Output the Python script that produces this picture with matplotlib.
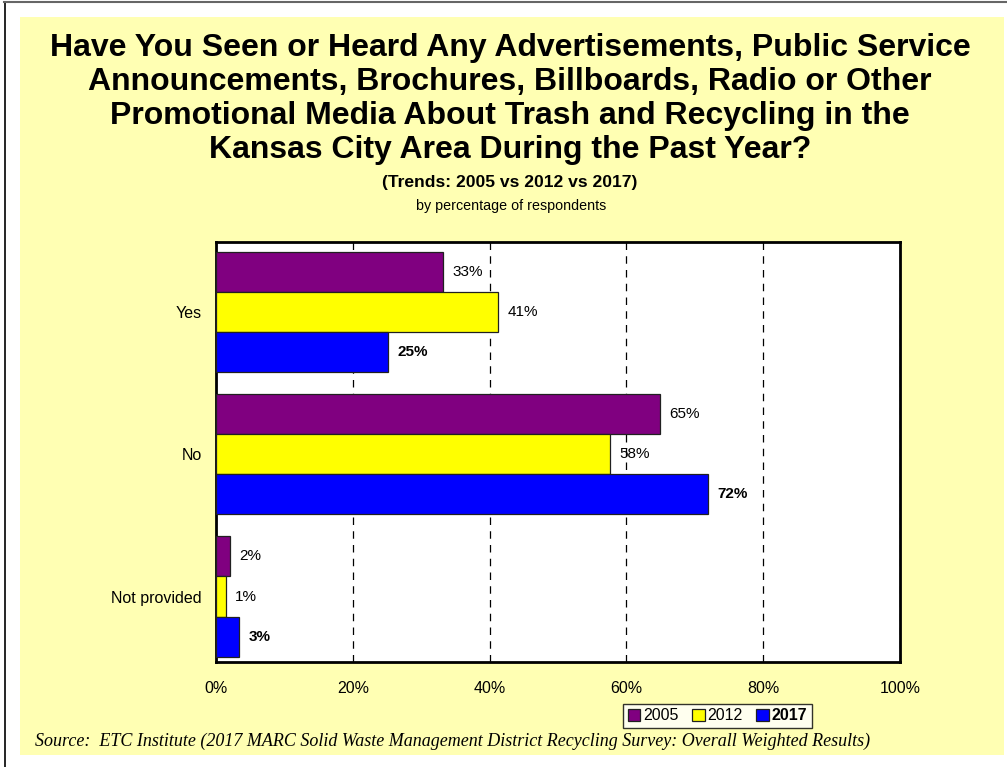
"""Promotional media awareness survey, trends 2005 / 2012 / 2017."""

import matplotlib.pyplot as plt
import numpy as np
from matplotlib.lines import Line2D
from matplotlib.patches import Patch, Rectangle

plt.rcParams["font.family"] = ["Liberation Sans", "DejaVu Sans"]

categories = ["Yes", "No", "Not provided"]
years = ["2005", "2012", "2017"]
pct_2005 = [33.2, 64.9, 2.0]
pct_2012 = [41.2, 57.6, 1.4]
pct_2017 = [25.1, 71.9, 3.4]
x_ticks = [0, 20, 40, 60, 80, 100]
x_tick_labels = ["0%", "20%", "40%", "60%", "80%", "100%"]

title_lines = [
    "Have You Seen or Heard Any Advertisements, Public Service",
    "Announcements, Brochures, Billboards, Radio or Other",
    "Promotional Media About Trash and Recycling in the",
    "Kansas City Area During the Past Year?",
]
subtitle = "(Trends: 2005 vs 2012 vs 2017)"
byline = "by percentage of respondents"
source = ("Source:  ETC Institute (2017 MARC Solid Waste Management District "
          "Recycling Survey: Overall Weighted Results)")

colors = ["#800080", "#FFFF00", "#0000FF"]
bg = "#FFFFB3"

W, H = 1007, 767
fig = plt.figure(figsize=(W / 100, H / 100), dpi=100)
fig.patch.set_facecolor("white")


def fx(px):
    return px / W


def fy(py):
    return 1 - py / H


# yellow panel and outer frame
fig.patches.append(Rectangle((fx(20), fy(755)), fx(984), 738 / H,
                             transform=fig.transFigure, facecolor=bg,
                             edgecolor="none", zorder=-10))
fig.lines.append(Line2D([fx(4.5), fx(4.5)], [fy(2), 0], transform=fig.transFigure,
                        color="black", linewidth=1.2))
fig.lines.append(Line2D([fx(4), 1], [fy(2), fy(2)], transform=fig.transFigure,
                        color="#666666", linewidth=1.5))

# titles
for i, line in enumerate(title_lines):
    fig.text(fx(510), fy(48 + 34 * i), line, ha="center", va="center",
             fontsize=23, fontweight="bold")
fig.text(fx(510), fy(182), subtitle, ha="center", va="center",
         fontsize=12.6, fontweight="bold")
fig.text(fx(511), fy(206), byline, ha="center", va="center", fontsize=10.3)
fig.text(fx(35), fy(741), source, ha="left", va="center", fontsize=13,
         style="italic", family=["Liberation Serif", "DejaVu Serif"])

ax = fig.add_axes([fx(216), fy(662), fx(900 - 216), (662 - 242) / H])
ax.set_facecolor("white")

y = np.arange(len(categories))
bar_h = 0.282
series = [pct_2005, pct_2012, pct_2017]
for k, vals in enumerate(series):
    pos = y + (k - 1) * bar_h
    ax.barh(pos, vals, height=bar_h, color=colors[k], edgecolor="#202020",
            linewidth=0.9, zorder=3)
    for p, v in zip(pos, vals):
        ax.text(v + 1.4, p, f"{round(v)}%", va="center", ha="left",
                fontsize=11, fontweight="bold" if k == 2 else "normal",
                zorder=4)

ax.set_xlim(0, 100)
ax.set_ylim(2.46, -0.49)
ax.set_xticks(x_ticks)
ax.set_xticklabels(x_tick_labels, fontsize=11.5)
ax.set_yticks(y)
ax.set_yticklabels(categories, fontsize=11.5)
ax.tick_params(axis="x", length=0, pad=14)
ax.tick_params(axis="y", length=0, pad=10)
ax.xaxis.grid(True, color="black", linestyle=(0, (6, 5)), linewidth=0.9, zorder=1)
ax.set_axisbelow(True)
for s in ax.spines.values():
    s.set_linewidth(2)
    s.set_color("black")

handles = [Patch(facecolor=c, edgecolor="#202020", linewidth=0.9) for c in colors]
leg = fig.legend(handles, years, loc="center",
                 bbox_to_anchor=(fx(717.5), fy(716)), ncol=3, fontsize=11.5,
                 frameon=True, fancybox=False, edgecolor="black",
                 handlelength=0.8, handleheight=0.8, handletextpad=0.2,
                 columnspacing=0.8, borderpad=0.3, borderaxespad=0)
leg.get_frame().set_linewidth(1)
leg.get_texts()[2].set_fontweight("bold")

fig.savefig("out.png", dpi=100)
